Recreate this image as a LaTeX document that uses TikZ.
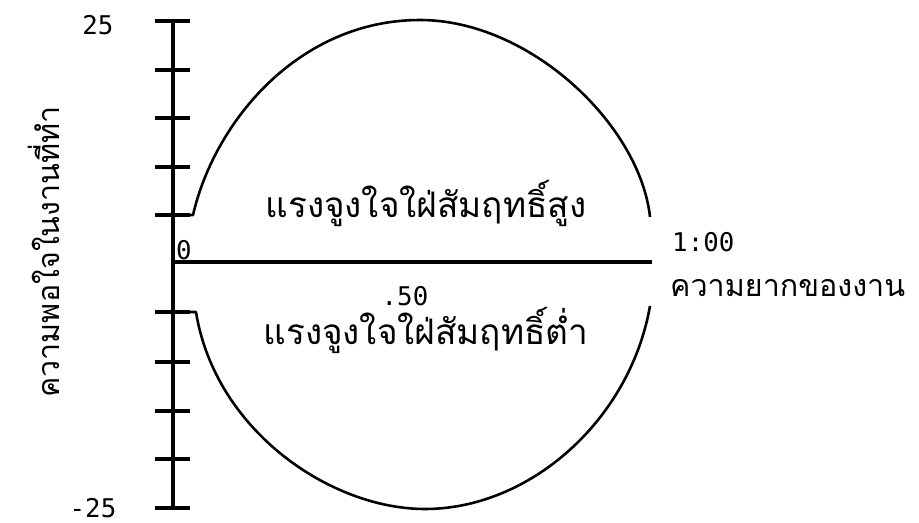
\documentclass[tikz,border=0pt]{standalone}
\usepackage{fontspec}
\newfontfamily\thaifont[Script=Thai]{Loma}
\newfontfamily\numfont{DejaVu Sans Mono}
\usepackage{tikz}

\begin{document}
\begin{tikzpicture}[x=0.3mm,y=-0.3mm,line join=round,
    axisline/.style={line width=4pt},
    tickline/.style={line width=3.4pt},
    curveline/.style={line width=2.2pt},
    numlabel/.style={font=\numfont\fontsize{22}{24}\selectfont,inner sep=0pt},
    thailabel/.style={font=\thaifont\fontsize{30}{34}\selectfont,inner sep=0pt}]
      \useasboundingbox (0,0) rectangle (919,523);
      % axes
      \coordinate (ytop) at (173,21);
      \coordinate (ybot) at (173,509);
      \coordinate (xorg) at (173,262);
      \coordinate (xend) at (652,262);
      \draw[axisline] (ytop) -- (ybot);
      \draw[tickline] (xorg) -- (xend);
      \foreach \v in {21,70,118,167,215,312,362,411,459,508}
        \draw[tickline] (155,\v) -- (190,\v);
      % high and low curves
      \coordinate (hiA) at (190,215);
      \coordinate (hiB) at (650,217);
      \coordinate (loA) at (190,312);
      \coordinate (loB) at (650,306);
      \draw[curveline] (hiA) -- (193,215) .. controls (215,120) and (300,20) .. (420,20)
        .. controls (530,20) and (640,125) .. (hiB);
      \draw[curveline] (loA) -- (196,312) .. controls (215,430) and (330,509) .. (425,509)
        .. controls (530,509) and (630,420) .. (loB);
      % labels
      \node[numlabel] (top) at (98,25) {25};
      \node[numlabel] (bot) at (93,508) {-25};
      \node[numlabel] (zero) at (184,250) {0};
      \node[numlabel] (half) at (405,296) {.50};
      \node[numlabel,anchor=west] (one) at (672,242) {1:00};
      \node[thailabel,anchor=west,font=\thaifont\fontsize{26}{30}\selectfont] (diff) at (670,288) {ความยากของงาน};
      \node[thailabel,rotate=90,font=\thaifont\fontsize{26}{30}\selectfont] (satis) at (44,252) {ความพอใจในงานที่ทำ};
      \node[thailabel] (high) at (426,203) {แรงจูงใจใฝ่สัมฤทธิ์สูง};
      \node[thailabel] (low) at (426,330) {แรงจูงใจใฝ่สัมฤทธิ์ต่ำ};
    \end{tikzpicture}
\end{document}
